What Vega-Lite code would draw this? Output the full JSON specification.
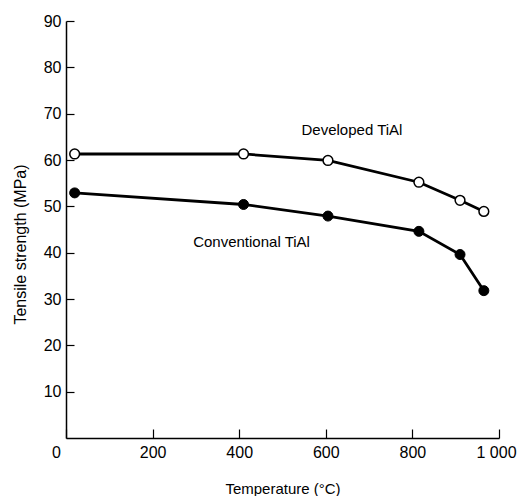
{
  "$schema": "https://vega.github.io/schema/vega-lite/v6.json",
  "width": 433,
  "height": 417,
  "autosize": "none",
  "padding": {"left": 66, "top": 21, "right": 19, "bottom": 58},
  "background": "white",
  "config": {
    "view": {"stroke": null},
    "font": "Liberation Sans",
    "axis": {
      "domainColor": "black",
      "tickColor": "black",
      "labelColor": "black",
      "titleColor": "black",
      "grid": false,
      "labelFont": "Liberation Sans",
      "titleFont": "Liberation Sans",
      "labelFontSize": 16,
      "titleFontSize": 15,
      "titleFontWeight": "normal",
      "domainWidth": 1.5,
      "tickWidth": 1.2
    }
  },
  "data": {
    "values": [
      {"series": "Developed TiAl", "temp": 20, "strength": 61.3},
      {"series": "Developed TiAl", "temp": 410, "strength": 61.3},
      {"series": "Developed TiAl", "temp": 605, "strength": 59.9},
      {"series": "Developed TiAl", "temp": 815, "strength": 55.2},
      {"series": "Developed TiAl", "temp": 910, "strength": 51.3},
      {"series": "Developed TiAl", "temp": 965, "strength": 48.9},
      {"series": "Conventional TiAl", "temp": 20, "strength": 52.9},
      {"series": "Conventional TiAl", "temp": 410, "strength": 50.4},
      {"series": "Conventional TiAl", "temp": 605, "strength": 47.9},
      {"series": "Conventional TiAl", "temp": 815, "strength": 44.6},
      {"series": "Conventional TiAl", "temp": 910, "strength": 39.6},
      {"series": "Conventional TiAl", "temp": 965, "strength": 31.8}
    ]
  },
  "encoding": {
    "x": {
      "field": "temp",
      "type": "quantitative",
      "scale": {"domain": [0, 1000], "nice": false, "zero": true},
      "axis": {
        "title": "Temperature (°C)",
        "values": [0, 200, 400, 600, 800, 1000],
        "labelExpr": "datum.value == 1000 ? '1 000' : datum.label",
        "labelOffset": {"condition": [{"test": "datum.value == 0", "value": -10}, {"test": "datum.value == 1000", "value": -3}], "value": 0},
        "tickSize": -9,
        "labelPadding": 15,
        "titleY": 50,
        "titleBaseline": "middle",
        "labelFlush": false
      }
    },
    "y": {
      "field": "strength",
      "type": "quantitative",
      "scale": {"domain": [0, 90], "nice": false},
      "axis": {
        "title": "Tensile strength (MPa)",
        "titleFontSize": 16,
        "values": [10, 20, 30, 40, 50, 60, 70, 80, 90],
        "tickSize": -8,
        "labelPadding": 13,
        "titleX": -46,
        "titleY": 223,
        "titleBaseline": "middle",
        "titleAnchor": null
      }
    }
  },
  "layer": [
    {
      "mark": {"type": "line", "color": "black", "strokeWidth": 2.8},
      "encoding": {"detail": {"field": "series"}}
    },
    {
      "transform": [{"filter": "datum.series == 'Developed TiAl'"}],
      "mark": {"type": "point", "shape": "circle", "filled": true, "fill": "white", "stroke": "black", "strokeWidth": 1.5, "size": 95, "opacity": 1}
    },
    {
      "transform": [{"filter": "datum.series == 'Conventional TiAl'"}],
      "mark": {"type": "point", "shape": "circle", "filled": true, "fill": "black", "stroke": "black", "strokeWidth": 1, "size": 100, "opacity": 1}
    },
    {
      "transform": [{"filter": "datum.series == 'Developed TiAl' && datum.temp == 605"}],
      "mark": {"type": "text", "text": "Developed TiAl", "font": "Liberation Sans", "fontSize": 15, "color": "black", "dx": 24, "dy": -30, "align": "center", "baseline": "middle"}
    },
    {
      "transform": [{"filter": "datum.series == 'Conventional TiAl' && datum.temp == 410"}],
      "mark": {"type": "text", "text": "Conventional TiAl", "font": "Liberation Sans", "fontSize": 15, "color": "black", "dx": 8, "dy": 38, "align": "center", "baseline": "middle"}
    }
  ]
}
